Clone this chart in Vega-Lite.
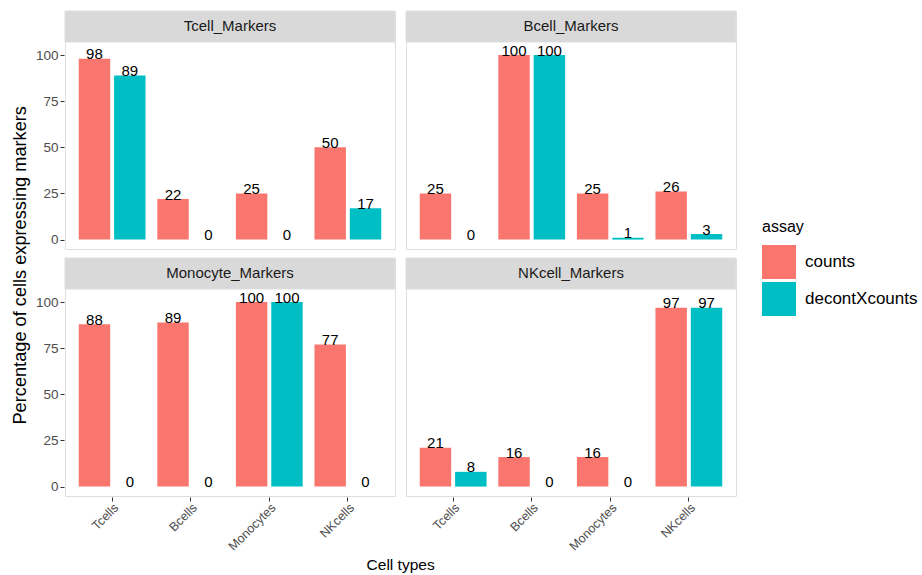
{
  "$schema": "https://vega.github.io/schema/vega-lite/v6.json",
  "background": "white",
  "padding": {"left": 11, "top": 10, "right": 0, "bottom": 0},
  "config": {
    "font": "Liberation Sans",
    "view": {"stroke": "#DEDEDE", "strokeWidth": 1},
    "headerFacet": {"labels": false, "labelFontSize": 0, "labelPadding": 0, "title": null}
  },
  "title": {
    "text": "Cell types",
    "orient": "bottom",
    "anchor": "middle",
    "fontSize": 15.5,
    "fontWeight": "normal",
    "color": "black",
    "offset": 5,
    "dx": -64
  },
  "hconcat": [
    {
      "title": {
        "text": "Percentage of cells expressing markers",
        "orient": "left",
        "anchor": "middle",
        "fontSize": 18.2,
        "fontWeight": "normal",
        "color": "black",
        "offset": 5,
        "dx": 16
      },
      "data": {
        "values": [
          {"panel": "Tcell_Markers", "cell": "Tcells", "assay": "counts", "value": 98},
          {"panel": "Tcell_Markers", "cell": "Tcells", "assay": "decontXcounts", "value": 89},
          {"panel": "Tcell_Markers", "cell": "Bcells", "assay": "counts", "value": 22},
          {"panel": "Tcell_Markers", "cell": "Bcells", "assay": "decontXcounts", "value": 0},
          {"panel": "Tcell_Markers", "cell": "Monocytes", "assay": "counts", "value": 25},
          {"panel": "Tcell_Markers", "cell": "Monocytes", "assay": "decontXcounts", "value": 0},
          {"panel": "Tcell_Markers", "cell": "NKcells", "assay": "counts", "value": 50},
          {"panel": "Tcell_Markers", "cell": "NKcells", "assay": "decontXcounts", "value": 17},
          {"panel": "Bcell_Markers", "cell": "Tcells", "assay": "counts", "value": 25},
          {"panel": "Bcell_Markers", "cell": "Tcells", "assay": "decontXcounts", "value": 0},
          {"panel": "Bcell_Markers", "cell": "Bcells", "assay": "counts", "value": 100},
          {"panel": "Bcell_Markers", "cell": "Bcells", "assay": "decontXcounts", "value": 100},
          {"panel": "Bcell_Markers", "cell": "Monocytes", "assay": "counts", "value": 25},
          {"panel": "Bcell_Markers", "cell": "Monocytes", "assay": "decontXcounts", "value": 1},
          {"panel": "Bcell_Markers", "cell": "NKcells", "assay": "counts", "value": 26},
          {"panel": "Bcell_Markers", "cell": "NKcells", "assay": "decontXcounts", "value": 3},
          {"panel": "Monocyte_Markers", "cell": "Tcells", "assay": "counts", "value": 88},
          {"panel": "Monocyte_Markers", "cell": "Tcells", "assay": "decontXcounts", "value": 0},
          {"panel": "Monocyte_Markers", "cell": "Bcells", "assay": "counts", "value": 89},
          {"panel": "Monocyte_Markers", "cell": "Bcells", "assay": "decontXcounts", "value": 0},
          {"panel": "Monocyte_Markers", "cell": "Monocytes", "assay": "counts", "value": 100},
          {"panel": "Monocyte_Markers", "cell": "Monocytes", "assay": "decontXcounts", "value": 100},
          {"panel": "Monocyte_Markers", "cell": "NKcells", "assay": "counts", "value": 77},
          {"panel": "Monocyte_Markers", "cell": "NKcells", "assay": "decontXcounts", "value": 0},
          {"panel": "NKcell_Markers", "cell": "Tcells", "assay": "counts", "value": 21},
          {"panel": "NKcell_Markers", "cell": "Tcells", "assay": "decontXcounts", "value": 8},
          {"panel": "NKcell_Markers", "cell": "Bcells", "assay": "counts", "value": 16},
          {"panel": "NKcell_Markers", "cell": "Bcells", "assay": "decontXcounts", "value": 0},
          {"panel": "NKcell_Markers", "cell": "Monocytes", "assay": "counts", "value": 16},
          {"panel": "NKcell_Markers", "cell": "Monocytes", "assay": "decontXcounts", "value": 0},
          {"panel": "NKcell_Markers", "cell": "NKcells", "assay": "counts", "value": 97},
          {"panel": "NKcell_Markers", "cell": "NKcells", "assay": "decontXcounts", "value": 97}
        ]
      },
      "facet": {
        "field": "panel",
        "type": "nominal",
        "sort": ["Tcell_Markers", "Bcell_Markers", "Monocyte_Markers", "NKcell_Markers"],
        "header": {"labels": false, "labelExpr": "''", "labelFontSize": 0, "labelPadding": 0, "title": null}
      },
      "columns": 2,
      "spacing": {"row": 7, "column": 9},
      "spec": {
        "width": 330,
        "height": 238,
        "layer": [
          {
            "transform": [{"filter": "datum.cell === 'Tcells' && datum.assay === 'counts'"}],
            "mark": {"type": "rect", "fill": "#D9D9D9", "stroke": "#DEDEDE", "strokeWidth": 1},
            "encoding": {
              "y": {"datum": 107.1, "type": "quantitative"},
              "y2": {"datum": 123.9}
            }
          },
          {
            "transform": [{"filter": "datum.cell === 'Tcells' && datum.assay === 'counts'"}],
            "mark": {"type": "text", "fontSize": 15, "color": "#1A1A1A", "baseline": "middle", "align": "center"},
            "encoding": {
              "y": {"datum": 115.5, "type": "quantitative"},
              "text": {"field": "panel"}
            }
          },
          {
            "mark": {"type": "bar"},
            "encoding": {
              "x": {
                "field": "cell",
                "type": "nominal",
                "sort": ["Tcells", "Bcells", "Monocytes", "NKcells"],
                "scale": {"paddingInner": 0.1, "paddingOuter": 0.15},
                "axis": {
                  "title": null,
                  "labelAngle": -45,
                  "labelAlign": "right",
                  "labelBaseline": "top",
                  "labelFontSize": 12.5,
                  "labelColor": "#4D4D4D",
                  "tickColor": "#333333",
                  "tickSize": 4,
                  "labelPadding": 0,
                  "domain": false
                }
              },
              "xOffset": {
                "field": "assay",
                "type": "nominal",
                "sort": ["counts", "decontXcounts"],
                "scale": {"paddingInner": 0.111, "paddingOuter": 0.0556}
              },
              "y": {
                "field": "value",
                "type": "quantitative",
                "scale": {"domain": [-5.1, 123.9], "nice": false, "zero": false},
                "axis": {
                  "title": null,
                  "values": [0, 25, 50, 75, 100],
                  "grid": false,
                  "domain": false,
                  "labelFontSize": 13.5,
                  "labelColor": "#4D4D4D",
                  "tickColor": "#333333",
                  "tickSize": 4,
                  "labelPadding": 2
                }
              },
              "color": {
                "field": "assay",
                "type": "nominal",
                "sort": ["counts", "decontXcounts"],
                "scale": {"range": ["#F8766D", "#00BFC4"]},
                "legend": {
                  "title": "assay",
                  "orient": "none",
                  "legendX": 697,
                  "legendY": 208,
                  "titleFontSize": 16,
                  "titleFontWeight": "normal",
                  "titleColor": "black",
                  "titlePadding": 10,
                  "labelFontSize": 17,
                  "labelColor": "black",
                  "labelOffset": 9,
                  "symbolType": "square",
                  "symbolSize": 1156,
                  "symbolStrokeWidth": 0,
                  "rowPadding": 3
                }
              }
            }
          },
          {
            "mark": {"type": "text", "fontSize": 15, "color": "black", "baseline": "alphabetic", "dy": 0.5},
            "encoding": {
              "x": {"field": "cell", "type": "nominal", "sort": ["Tcells", "Bcells", "Monocytes", "NKcells"]},
              "xOffset": {"field": "assay", "type": "nominal", "sort": ["counts", "decontXcounts"]},
              "y": {"field": "value", "type": "quantitative"},
              "text": {"field": "value", "type": "quantitative"}
            }
          }
        ]
      }
    }
  ]
}
